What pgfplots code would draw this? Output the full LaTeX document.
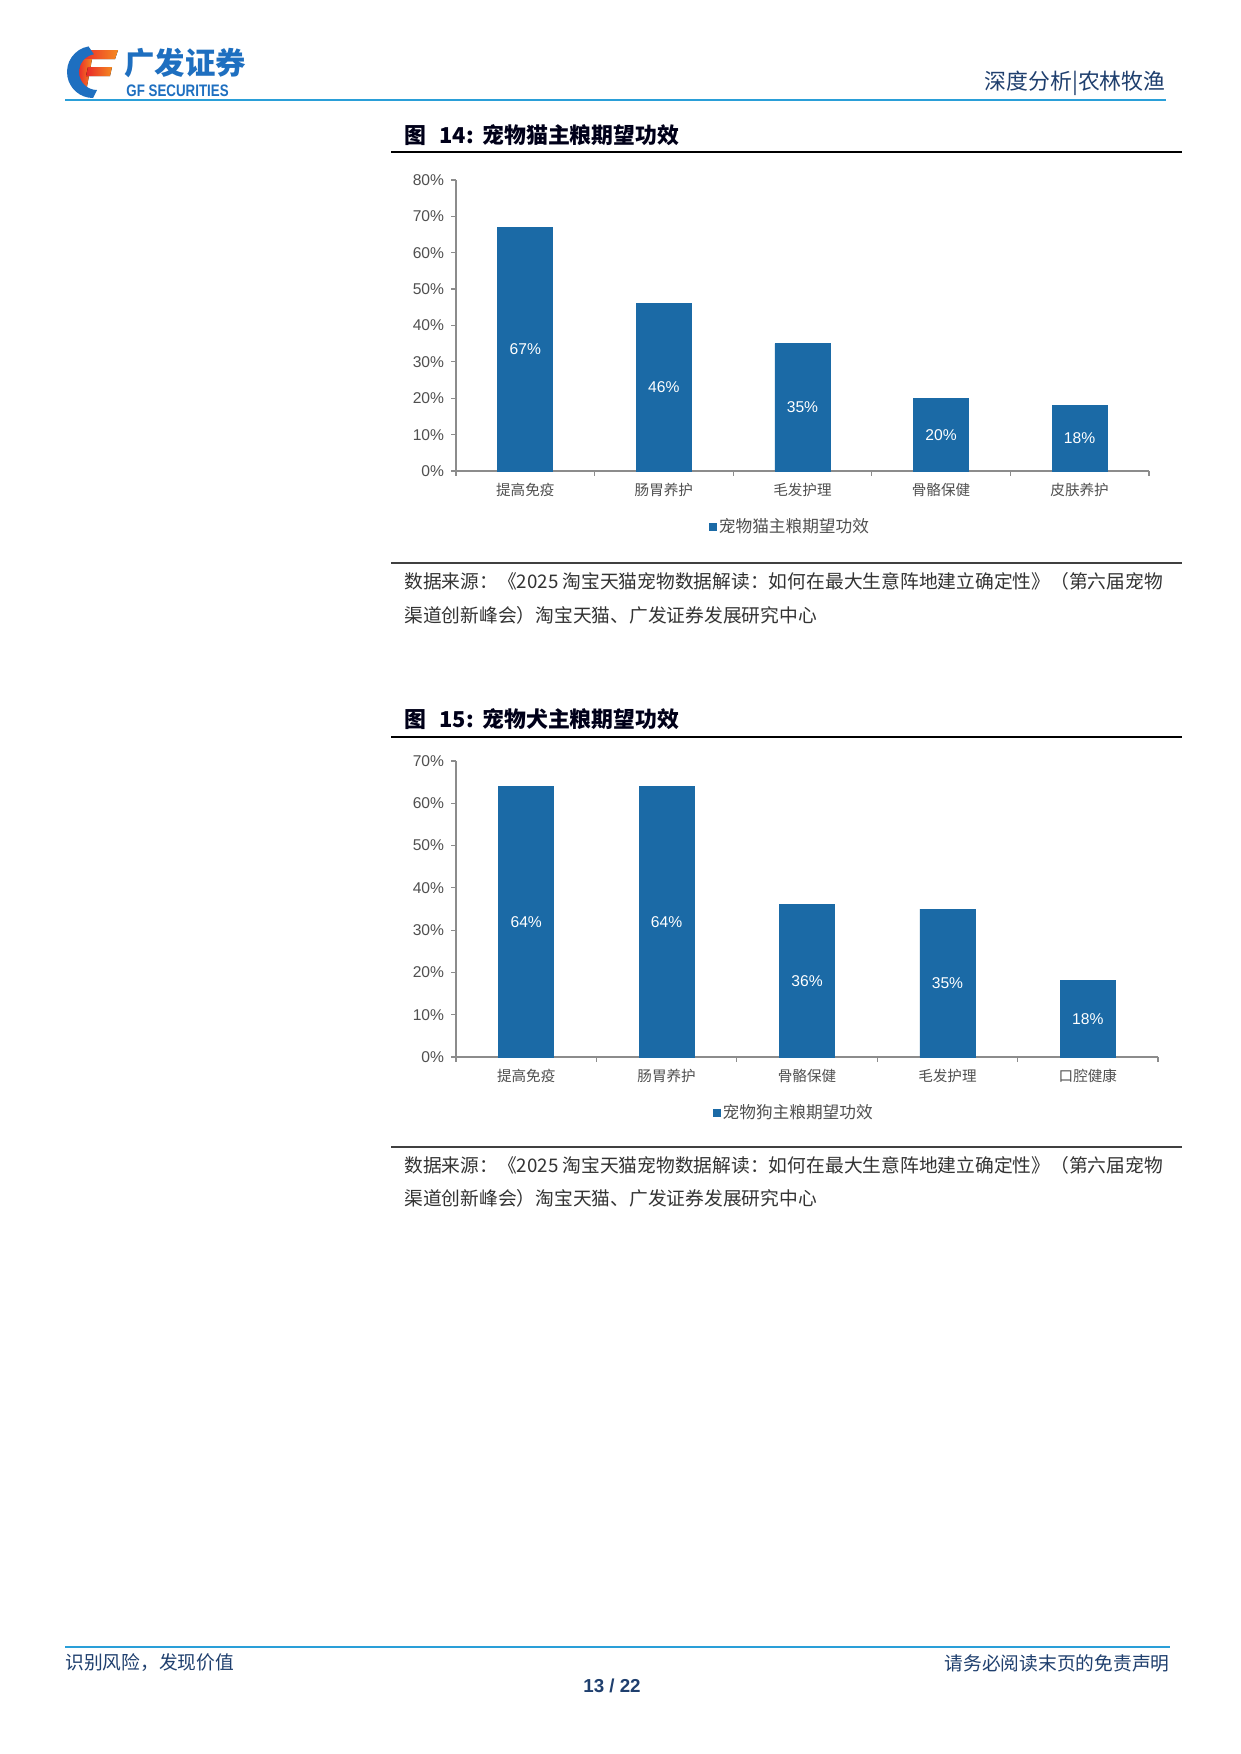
\documentclass[border=0pt]{standalone}
\usepackage{fontspec}
\setmainfont{Liberation Sans}
\newfontfamily\cjk{Noto Sans CJK SC}
\usepackage{graphicx}
\usepackage{pgfplots}
\pgfplotsset{compat=1.18}

\definecolor{barblue}{HTML}{1B6AA6}
\definecolor{axgrey}{HTML}{8C8C8C}
\definecolor{ticktxt}{HTML}{505050}
\definecolor{hdrline}{HTML}{2A9FD8}
\definecolor{navy}{HTML}{1F3F6E}
\definecolor{logoblue}{HTML}{1E6FC0}
\definecolor{logored}{HTML}{E8262B}
\definecolor{logoorange}{HTML}{F58A20}
\definecolor{srctxt}{HTML}{333333}

\pgfplotsset{
  petbar/.style={
    scale only axis,
    ybar, bar width=26.4pt,
    xmin=-0.5, xmax=4.5, ymin=0,
    axis x line*=bottom, axis y line*=left,
    axis line style={-, draw=axgrey, line width=0.6pt},
    xtick={-0.5,0.5,1.5,2.5,3.5,4.5},
    x tick label as interval,
    tick align=outside,
    major tick length=2.2pt,
    tick style={draw=axgrey, line width=0.6pt},
    /pgf/number format/assume math mode=true,
    yticklabel style={font=\fontsize{7.5}{9}\selectfont, text=ticktxt},
    xticklabel style={font=\cjk\fontsize{7}{9}\selectfont, text=ticktxt},
    visualization depends on={y \as \rawy},
    nodes near coords={\pgfmathprintnumber{\pgfplotspointmeta}\%},
    every node near coord/.append style={font=\fontsize{7.5}{9}\selectfont, text=white,
      anchor=center, shift={(axis direction cs:0,-\rawy/2)}},
    legend style={draw=none, fill=none, anchor=center, inner sep=0pt,
      font=\cjk\fontsize{8}{10}\selectfont, text=ticktxt,
      nodes={inner sep=1pt}},
    legend image code/.code={\fill[barblue] (0pt,-1.7pt) rectangle (3.4pt,1.7pt);},
  }
}

\begin{document}
\begin{tikzpicture}[x=0.48pt, y=0.48pt]
\path[fill=white, use as bounding box] (0,0) rectangle (1241,-1754);
\coordinate (A1) at (456,-471);
\coordinate (A2) at (456,-1057);

% header
\fill[shading=axis, left color=logored, right color=logoorange]
  (84,-50) -- (118,-50) -- (115,-59) -- (80,-59) -- cycle;
\fill[shading=axis, left color=logored, right color=logoorange]
  (80,-59) -- (92,-59) -- (86,-92) -- (78,-86) -- cycle;
\fill[shading=axis, left color=logored, right color=logoorange]
  (88,-67) -- (112,-67) -- (110,-76) -- (86,-76) -- cycle;
\fill[logoblue] (88.5,-46.4) arc[start angle=100, end angle=270, radius=26]
  -- (97,-90) arc[start angle=270, end angle=100, radius=18] -- cycle;
\node[anchor=west, inner sep=0pt, text=logoblue] at (124,-63)
  {\cjk\bfseries\fontsize{14.6}{16}\selectfont 广发证券};
\node[anchor=west, inner sep=0pt, text=logoblue] at (126,-91)
  {\scalebox{0.8}[1]{\bfseries\fontsize{8}{9}\selectfont GF SECURITIES}};
\node[anchor=east, inner sep=0pt, text=navy] at (1166,-83)
  {\cjk\fontsize{10.5}{12}\selectfont 深度分析|农林牧渔};
\draw[hdrline, line width=1.3pt] (65,-100) -- (1166,-100);

% figure 14
\node[anchor=west, inner sep=0pt, text=black!90!blue] at (404,-135)
  {\cjk\bfseries\fontsize{10.5}{12}\selectfont 图\hspace{0.6em}14:\hspace{0.4em}宠物猫主粮期望功效};
\draw[black, line width=0.7pt] (391,-152) -- (1182,-152);

\begin{axis}[petbar,
  at={(A1)}, anchor=south west,
  width=332.6pt, height=139.7pt,
  ymax=80,
  ytick={0,10,20,30,40,50,60,70,80},
  yticklabels={0\%,10\%,20\%,30\%,40\%,50\%,60\%,70\%,80\%},
  xticklabels={提高免疫,肠胃养护,毛发护理,骨骼保健,皮肤养护},
  legend style={at={(0.482,-0.192)}},
]
\addplot[fill=barblue, draw=barblue] coordinates {(0,67) (1,46) (2,35) (3,20) (4,18)};
\addlegendentry{宠物猫主粮期望功效}
\end{axis}

\draw[black!75, line width=0.9pt] (391,-563) -- (1182,-563);
\node[anchor=west, inner sep=0pt, text=srctxt] at (404,-581)
  {\cjk\fontsize{9}{11}\selectfont 数据来源：《2025 淘宝天猫宠物数据解读：如何在最大生意阵地建立确定性》（第六届宠物};
\node[anchor=west, inner sep=0pt, text=srctxt] at (404,-615)
  {\cjk\fontsize{9}{11}\selectfont 渠道创新峰会）淘宝天猫、广发证券发展研究中心};

% figure 15
\node[anchor=west, inner sep=0pt, text=black!90!blue] at (404,-719)
  {\cjk\bfseries\fontsize{10.5}{12}\selectfont 图\hspace{0.6em}15:\hspace{0.4em}宠物犬主粮期望功效};
\draw[black, line width=0.7pt] (391,-737) -- (1182,-737);

\begin{axis}[petbar,
  at={(A2)}, anchor=south west,
  width=337pt, height=142.1pt,
  ymax=70,
  ytick={0,10,20,30,40,50,60,70},
  yticklabels={0\%,10\%,20\%,30\%,40\%,50\%,60\%,70\%},
  xticklabels={提高免疫,肠胃养护,骨骼保健,毛发护理,口腔健康},
  legend style={at={(0.481,-0.189)}},
]
\addplot[fill=barblue, draw=barblue] coordinates {(0,64) (1,64) (2,36) (3,35) (4,18)};
\addlegendentry{宠物狗主粮期望功效}
\end{axis}

\draw[black!75, line width=0.9pt] (391,-1147) -- (1182,-1147);
\node[anchor=west, inner sep=0pt, text=srctxt] at (404,-1165)
  {\cjk\fontsize{9}{11}\selectfont 数据来源：《2025 淘宝天猫宠物数据解读：如何在最大生意阵地建立确定性》（第六届宠物};
\node[anchor=west, inner sep=0pt, text=srctxt] at (404,-1198)
  {\cjk\fontsize{9}{11}\selectfont 渠道创新峰会）淘宝天猫、广发证券发展研究中心};

% footer
\draw[hdrline, line width=1.4pt] (65,-1647) -- (1170,-1647);
\node[anchor=west, inner sep=0pt, text=navy] at (65,-1663)
  {\cjk\fontsize{9}{11}\selectfont 识别风险，发现价值};
\node[anchor=east, inner sep=0pt, text=navy] at (1170,-1663)
  {\cjk\fontsize{9}{11}\selectfont 请务必阅读末页的免责声明};
\node[inner sep=0pt, text=navy] at (612,-1686)
  {\bfseries\fontsize{9}{11}\selectfont 13 / 22};
\end{tikzpicture}
\end{document}
